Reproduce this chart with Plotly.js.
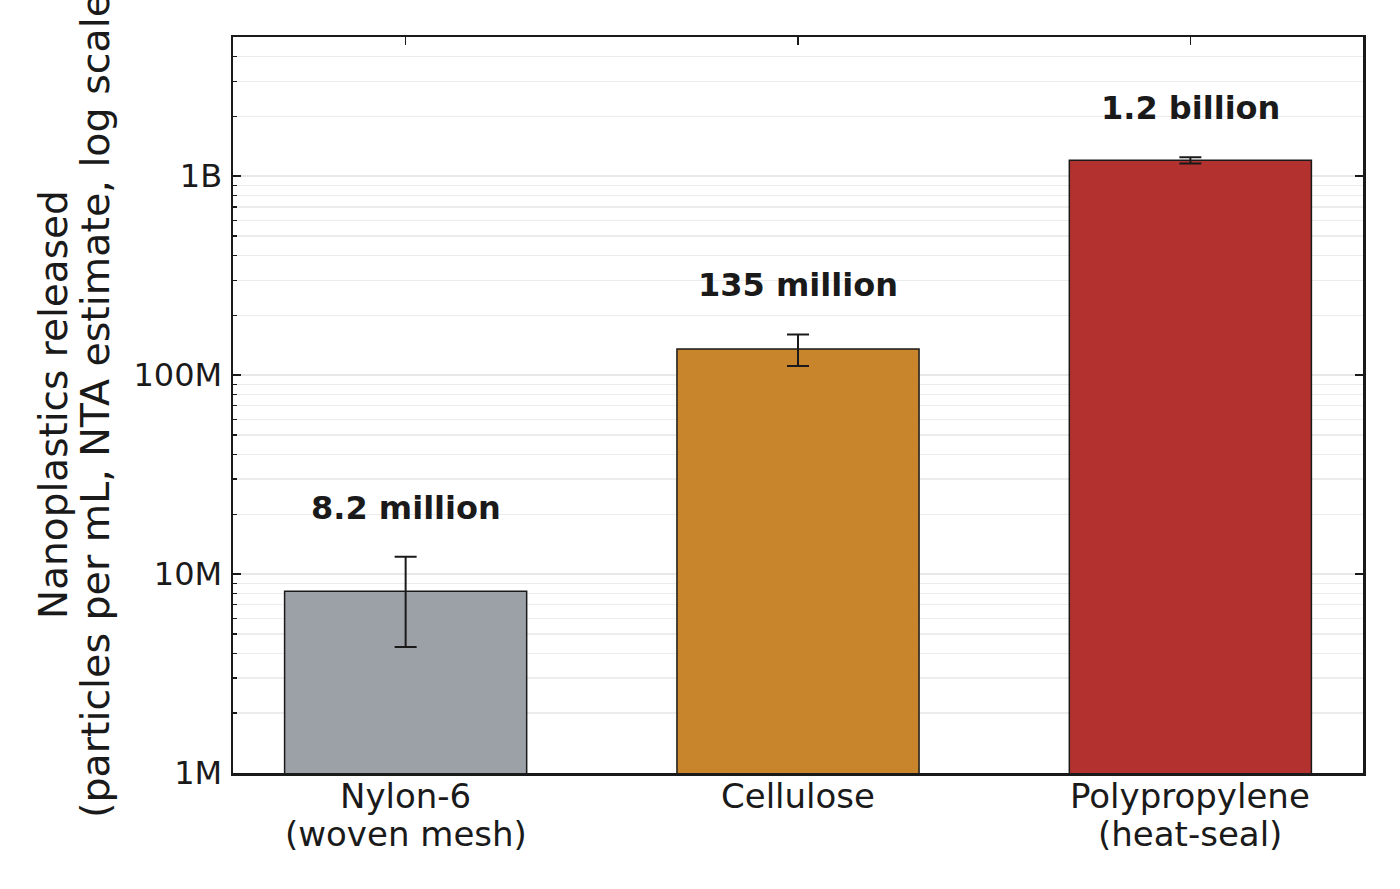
<!DOCTYPE html>
<html>
<head>
<meta charset="utf-8">
<script src="https://cdn.plot.ly/plotly-3.0.1.min.js"></script>
<style>
  html, body { margin: 0; padding: 0; background: #ffffff; }
  #grafico { width: 1400px; height: 889px; }
</style>
</head>
<body>
<div id="grafico"></div>
<script>
// Nanopartículas liberadas por tipo de bolsita de té (escala log)
const categorias = ['Nylon-6', 'Cellulose', 'Polypropylene'];
const subtitulosCategoria = ['(woven mesh)', '', '(heat-seal)'];
const valores = [8.2e6, 135e6, 1.2e9];
const errorSup = [4.0e6, 25e6, 0.045e9];
const errorInf = [3.9e6, 24e6, 0.045e9];
const etiquetasBarra = ['8.2 million', '135 million', '1.2 billion'];
const coloresBarra = ['#9ca0a7', '#c8852b', '#b3312e'];

const ticksY = [1e6, 1e7, 1e8, 1e9];
const ticksYTexto = ['1M', '10M', '100M', '1B'];

const TINTA = '#1a1a1a';
const FUENTE = '"DejaVu Sans", "Liberation Sans", sans-serif';
const RANGO_Y = [6, Math.log10(5e9)];

const trazaBarras = {
  type: 'bar',
  x: categorias,
  y: valores,
  width: 0.617,
  marker: { color: coloresBarra, line: { color: TINTA, width: 1.5 } },
  error_y: {
    type: 'data',
    symmetric: false,
    array: errorSup,
    arrayminus: errorInf,
    color: TINTA,
    thickness: 2,
    width: 11,
  },
  hoverinfo: 'skip',
  showlegend: false,
};

// traza invisible solo para que exista el eje derecho (ticks mayores espejo)
const trazaEspejo = {
  type: 'scatter',
  mode: 'none',
  x: categorias,
  y: valores,
  yaxis: 'y2',
  hoverinfo: 'skip',
  showlegend: false,
};

// etiqueta arriba de cada barra, por encima del extremo superior del error
const anotacionesBarra = categorias.map((c, i) => ({
  x: c,
  y: Math.log10((valores[i] + errorSup[i]) * 1.77),
  xref: 'x',
  yref: 'y',
  text: '<b>' + etiquetasBarra[i] + '</b>',
  showarrow: false,
  xanchor: 'center',
  yanchor: 'middle',
  font: { family: FUENTE, size: 32, color: TINTA },
}));

// etiquetas del eje X en dos renglones (interlineado más apretado que el de Plotly)
const etiquetaX = (texto, c, corrimiento) => ({
  x: c,
  y: 0,
  xref: 'x',
  yref: 'paper',
  yshift: corrimiento,
  text: texto,
  showarrow: false,
  xanchor: 'center',
  yanchor: 'middle',
  font: { family: FUENTE, size: 34, color: TINTA },
});
const anotacionesX = [
  ...categorias.map((c) => etiquetaX(c, c, -23)),
  ...subtitulosCategoria.filter((s) => s).map((s) => etiquetaX(s, categorias[subtitulosCategoria.indexOf(s)], -61)),
];

// título del eje Y: dos renglones, el segundo queda cortado arriba como en el original
const tituloY = [
  { texto: 'Nanoplastics released', dx: -180, dy: 0, tam: 39 },
  { texto: '(particles per mL, NTA estimate, log scale)', dx: -138, dy: 7, tam: 39.5 },
].map((l) => ({
  x: 0,
  y: 0.5,
  xref: 'paper',
  yref: 'paper',
  xshift: l.dx,
  yshift: l.dy,
  text: l.texto,
  textangle: -90,
  showarrow: false,
  xanchor: 'center',
  yanchor: 'middle',
  font: { family: FUENTE, size: l.tam, color: TINTA },
}));

const layout = {
  width: 1400,
  height: 889,
  margin: { l: 233, r: 37, t: 37, b: 116 },
  paper_bgcolor: '#ffffff',
  plot_bgcolor: '#ffffff',
  font: { family: FUENTE, size: 32, color: TINTA },
  xaxis: {
    type: 'category',
    range: [-0.44, 2.44],
    showline: true,
    linecolor: TINTA,
    linewidth: 2.5,
    mirror: 'ticks',
    ticks: 'inside',
    ticklen: 8,
    tickwidth: 1.5,
    tickcolor: TINTA,
    showgrid: false,
    showticklabels: false,
    layer: 'below traces',
  },
  yaxis: {
    type: 'log',
    range: RANGO_Y,
    tickvals: ticksY,
    ticktext: ticksYTexto,
    showline: true,
    linecolor: TINTA,
    linewidth: 2.5,
    mirror: true,
    ticks: 'inside',
    ticklen: 8,
    tickwidth: 1.5,
    tickcolor: TINTA,
    ticklabelstandoff: 2,
    showgrid: true,
    gridcolor: '#e8e8e8',
    gridwidth: 1.5,
    zeroline: false,
    tickfont: { family: FUENTE, size: 32, color: TINTA },
    minor: {
      dtick: 'D1',
      ticks: 'inside',
      ticklen: 4,
      tickwidth: 1.2,
      tickcolor: TINTA,
      showgrid: true,
      gridcolor: '#ececec',
      gridwidth: 1.2,
    },
  },
  yaxis2: {
    type: 'log',
    range: RANGO_Y,
    overlaying: 'y',
    side: 'right',
    tickvals: ticksY,
    ticks: 'inside',
    ticklen: 8,
    tickwidth: 1.5,
    tickcolor: TINTA,
    showticklabels: false,
    showgrid: false,
    showline: false,
    zeroline: false,
  },
  annotations: [...anotacionesBarra, ...anotacionesX, ...tituloY],
  bargap: 0,
};

Plotly.newPlot('grafico', [trazaBarras, trazaEspejo], layout, { displayModeBar: false, staticPlot: true });
</script>
</body>
</html>
